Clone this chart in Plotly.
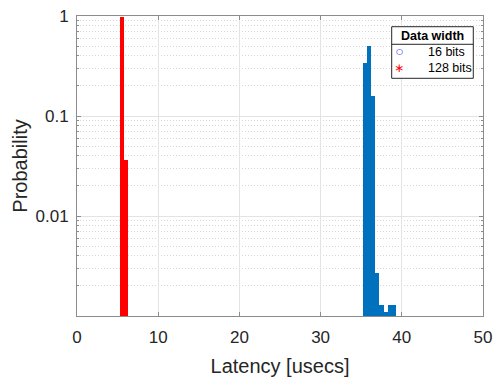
import plotly.graph_objects as go

# Data
lat_128 = [5.5, 6.0]
prob_128 = [0.97, 0.036]
lat_16 = [35.5, 36.0, 36.5, 37.0, 37.5, 38.0, 38.5, 39.0]
prob_16 = [0.34, 0.50, 0.16, 0.0027, 0.0013, 0.0011, 0.0013, 0.0013]
x_ticks = [0, 10, 20, 30, 40, 50]
y_ticks = [0.01, 0.1, 1]
y_tick_text = ["0.01", "0.1", "1"]
y_minor = [k * 10.0 ** e for e in (-3, -2, -1) for k in range(2, 10)]
legend_title = "Data width"
series_names = ["16 bits", "128 bits"]

BLUE = "#0072BD"
RED = "#FF0000"
FONT = "Liberation Sans, Arial, sans-serif"
TXT = "#262626"
AXC = "#8c8c8c"

fig = go.Figure()
fig.add_trace(go.Bar(x=lat_16, y=prob_16, width=0.5, name=series_names[0],
                     marker=dict(color=BLUE, line=dict(width=0)), showlegend=False))
fig.add_trace(go.Bar(x=lat_128, y=prob_128, width=0.5, name=series_names[1],
                     marker=dict(color=RED, line=dict(width=0)), showlegend=False))

# Manual MATLAB-style legend (box with title separator)
lx0, lx1, ly0, ly1 = 0.7751, 0.9761, 0.7923, 0.9643
sep_y = 0.9057
shapes = [
    dict(type="rect", xref="paper", yref="paper", x0=lx0, x1=lx1, y0=ly0, y1=ly1,
         fillcolor="white", line=dict(color="#262626", width=1), layer="above"),
    dict(type="line", xref="paper", yref="paper", x0=lx0, x1=lx1, y0=sep_y, y1=sep_y,
         line=dict(color="#262626", width=1), layer="above"),
]
annotations = [
    dict(xref="paper", yref="paper", x=(lx0 + lx1) / 2, y=0.932, text="<b>" + legend_title + "</b>",
         showarrow=False, xanchor="center", yanchor="middle",
         font=dict(size=12.5, color="#000000", family=FONT)),
]
sym_x, txt_x = 0.7939, 0.8596
rows_y = [0.8807, 0.8277]
symbols = [("○", "#0000FF", 8), ("∗", RED, 12)]
for name, yy, (sym, col, sz) in zip(series_names, rows_y, symbols):
    annotations.append(dict(xref="paper", yref="paper", x=sym_x, y=yy, text=sym, showarrow=False,
                            xanchor="center", yanchor="middle",
                            font=dict(size=sz, color=col, family="DejaVu Sans")))
    annotations.append(dict(xref="paper", yref="paper", x=txt_x, y=yy, text=name, showarrow=False,
                            xanchor="left", yanchor="middle",
                            font=dict(size=12.5, color="#000000", family=FONT)))

fig.update_layout(
    width=494, height=377,
    margin=dict(l=77, r=11, t=16, b=61, autoexpand=False),
    paper_bgcolor="white", plot_bgcolor="white",
    barmode="overlay", bargap=0,
    font=dict(family=FONT, color=TXT),
    showlegend=False,
    shapes=shapes, annotations=annotations,
)

fig.update_xaxes(
    range=[0, 50], tickvals=x_ticks, ticktext=[str(v) for v in x_ticks],
    showgrid=True, gridcolor="#e3e3e3", gridwidth=1,
    showline=True, linecolor=AXC, linewidth=1, mirror="allticks",
    ticks="inside", ticklen=4, tickcolor=AXC,
    tickfont=dict(size=17, color=TXT), ticklabelstandoff=6,
    title=dict(text="Latency [usecs]", font=dict(size=20, color=TXT), standoff=13),
    zeroline=False, automargin=False,
)
fig.update_yaxes(
    type="log", range=[-3, 0], tickvals=y_ticks, ticktext=y_tick_text,
    showgrid=True, gridcolor="#e3e3e3", gridwidth=1,
    showline=True, linecolor=AXC, linewidth=1, mirror="allticks",
    ticks="inside", ticklen=4, tickcolor=AXC,
    tickfont=dict(size=17, color=TXT), ticklabelstandoff=4,
    title=dict(text="Probability", font=dict(size=20, color=TXT), standoff=2),
    minor=dict(tickvals=y_minor, showgrid=True, gridcolor="#d6d6d6", griddash="1px,2px", gridwidth=1,
               ticks="inside", ticklen=2, tickcolor=AXC),
    zeroline=False, automargin=False,
)

fig.write_html("out.html")
